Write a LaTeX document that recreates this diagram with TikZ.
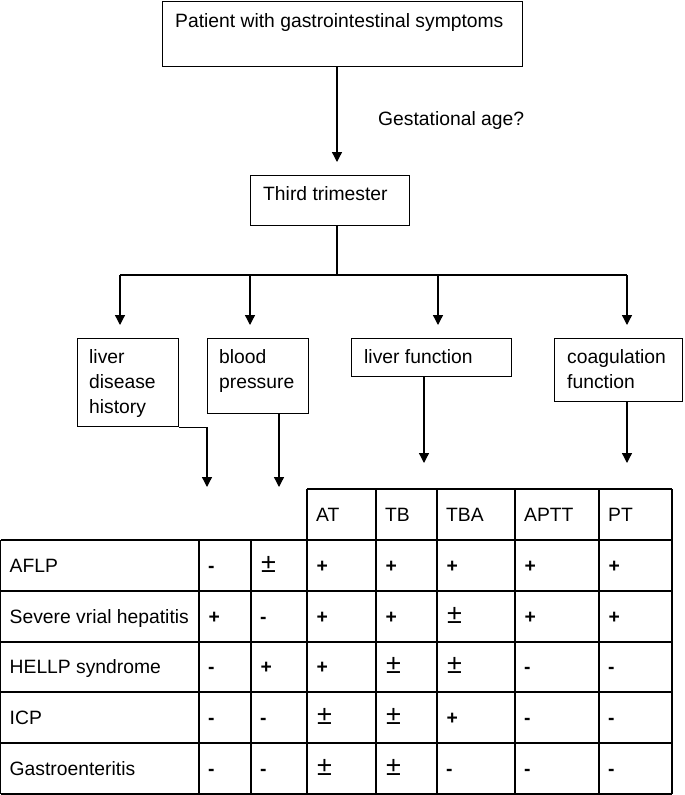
\documentclass[tikz,border=0pt]{standalone}
\usepackage{fontspec}
\setmainfont{Liberation Sans}
\usetikzlibrary{arrows.meta}
\newcommand{\pmsym}{{\fontsize{27}{27}\selectfont ±}}
\begin{document}
\begin{tikzpicture}[x=1pt,y=-1pt,
  box/.style={draw, line width=1.3pt, inner sep=0pt, anchor=north west},
  txt/.style={inner sep=0pt, anchor=north west, align=left, font=\fontsize{19.3}{25}\selectfont},
  cell/.style={inner sep=0pt, anchor=base west, font=\fontsize{19.3}{25}\selectfont},
  sym/.style={inner sep=0pt, anchor=base west, font=\fontsize{19.3}{25}\selectfont\bfseries},
  arr/.style={line width=1.3pt, -{Triangle[length=10pt,width=10pt]}},
  ln/.style={line width=1.3pt},
  gridline/.style={line width=1.1pt}]
\useasboundingbox (0,0) rectangle (685,795);

% boxes
\node[box, minimum width=360pt, minimum height=65.3pt] (top) at (162,0.7) {};
\node[txt] (topT) at ([shift={(13,12.7)}]top.north west) {Patient with gastrointestinal symptoms};
\node[txt] (ga) at (378,111.4) {Gestational age?};
\node[box, minimum width=159pt, minimum height=50pt] (tt) at (250,175) {};
\node[txt] (ttT) at ([shift={(13,11.4)}]tt.north west) {Third trimester};
\node[box, minimum width=101pt, minimum height=88pt] (ldh) at (77,338) {};
\node[txt] (ldhT) at ([shift={(12,11.4)}]ldh.north west) {liver\\disease\\history};
\node[box, minimum width=101pt, minimum height=75pt] (bp) at (207,338) {};
\node[txt] (bpT) at ([shift={(12,11.4)}]bp.north west) {blood\\pressure};
\node[box, minimum width=160pt, minimum height=38pt] (lf) at (351,338) {};
\node[txt] (lfT) at ([shift={(13,11.4)}]lf.north west) {liver function};
\node[box, minimum width=128pt, minimum height=63pt] (cf) at (554,338) {};
\node[txt] (cfT) at ([shift={(13,11.4)}]cf.north west) {coagulation\\function};

% helper coordinates
\coordinate (ax) at (337,0);
\coordinate (bus) at (337,275);
\coordinate (d1) at (120,325);
\coordinate (d2) at (250,325);
\coordinate (d3) at (438,325);
\coordinate (d4) at (627,325);
\coordinate (e1) at (207,487);
\coordinate (e2) at (279,487);
\coordinate (e3) at (424,463);
\coordinate (e4) at (627,463);

% connectors
\draw[arr, shorten >=13pt] (top.south -| ax) -- (tt.north -| ax);
\draw[ln] (tt.south -| ax) -- (bus);
\draw[ln] (d1 |- bus) -- (d4 |- bus);
\foreach \d in {d1,d2,d3,d4} \draw[arr] (\d |- bus) -- (\d);
\draw[arr] (ldh.south east) -| (e1);
\draw[arr] (bp.south -| e2) -- (e2);
\draw[arr] (lf.south -| e3) -- (e3);
\draw[arr] (cf.south -| e4) -- (e4);

% table grid
\draw[gridline] (307,489) -- (672,489);
\foreach \y in {540,591,642,692,743,794} \draw[gridline] (0.6,\y) -- (672,\y);
\foreach \x in {0.6,199,251} \draw[gridline] (\x,540) -- (\x,794);
\foreach \x in {307,376,437,515,599,672} \draw[gridline] (\x,489) -- (\x,794);

% header
\foreach \h/\x in {AT/307,TB/376,TBA/437,APTT/515,PT/599}
  \node[cell] (h\h) at (\x+9,521) {\h};

% rows (p = plus, m = minus, a = plus-minus)
\foreach \nm/\vals [count=\r] in {AFLP/{m,a,p,p,p,p,p},
    Severe vrial hepatitis/{p,m,p,p,a,p,p},
    HELLP syndrome/{m,p,p,a,a,m,m},
    ICP/{m,m,a,a,p,m,m},
    Gastroenteritis/{m,m,a,a,m,m,m}} {
  \pgfmathsetmacro\yb{540+50.8*(\r-1)+32.3}
  \node[cell] (r\r) at (9.5,\yb) {\nm};
  \foreach \v [count=\c] in \vals {
    \pgfmathsetmacro\xl{{199,251,307,376,437,515,599}[\c-1]}
    \if\v p
      \node[sym] (c\r-\c) at (\xl+9.5,\yb) {+};
    \else\if\v m
      \node[sym] (c\r-\c) at (\xl+9,\yb) {-};
    \else
      \node[cell] (c\r-\c) at (\xl+10,\yb) {\pmsym};
    \fi\fi
  }
}
\end{tikzpicture}
\end{document}
